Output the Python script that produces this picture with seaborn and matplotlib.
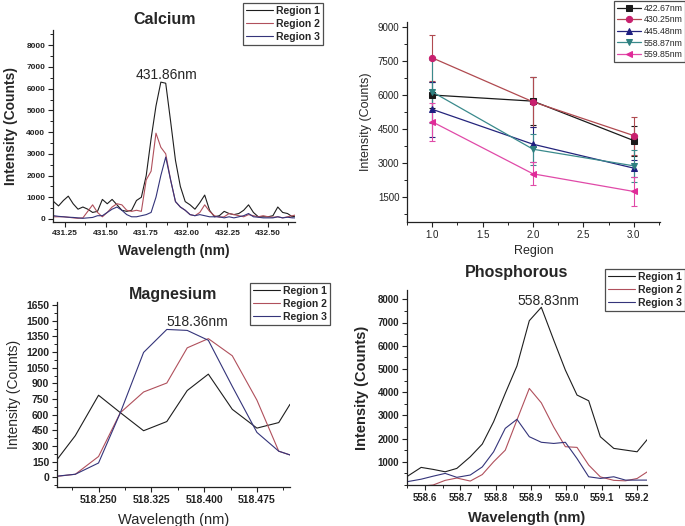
import numpy as np
import pandas as pd
import seaborn as sns
import matplotlib.pyplot as plt
from matplotlib.ticker import AutoMinorLocator, FormatStrFormatter, MultipleLocator

# Calcium spectra
ca_wl = [431.18, 431.21, 431.24, 431.27, 431.30, 431.33, 431.36, 431.39, 431.42, 431.45,
         431.48, 431.51, 431.54, 431.57, 431.60, 431.63, 431.66, 431.69, 431.72, 431.75,
         431.78, 431.81, 431.84, 431.87, 431.90, 431.93, 431.96, 431.99, 432.02, 432.05,
         432.08, 432.11, 432.14, 432.17, 432.20, 432.23, 432.26, 432.29, 432.32, 432.35,
         432.38, 432.41, 432.44, 432.47, 432.50, 432.53, 432.56, 432.59, 432.62, 432.65, 432.68]
ca_r1 = [800, 600, 850, 1050, 700, 450, 550, 450, 300, 350,
         900, 700, 900, 650, 400, 350, 400, 850, 1000, 2000,
         3700, 5200, 6300, 6250, 4500, 2700, 1500, 800, 650, 450,
         750, 1100, 400, 100, 150, 350, 250, 200, 250, 400,
         650, 300, 100, 100, 100, 150, 550, 300, 250, 100, 150]
ca_r2 = [100, 100, 100, 80, 50, 30, 50, 350, 650, 300,
         100, 300, 550, 700, 650, 400, 350, 400, 350, 1800,
         2200, 3950, 3300, 3000, 1800, 800, 550, 400, 200, 150,
         300, 650, 350, 150, 80, 100, 250, 200, 150, 100,
         200, 150, 100, 150, 100, 80, 100, 50, 100, 150, 200]
ca_r3 = [150, 120, 100, 80, 70, 50, 30, 50, 70, 150,
         150, 300, 450, 550, 400, 200, 100, 100, 150, 200,
         300, 1000, 2000, 2850, 1800, 800, 550, 400, 200, 150,
         200, 150, 100, 100, 100, 50, 100, 50, 100, 150,
         250, 100, 80, 50, 50, 50, 100, 50, 80, 50, 50]

# Intensity vs region
regions = [1.0, 2.0, 3.0]
lines_nm = ['422.67nm', '430.25nm', '445.48nm', '558.87nm', '559.85nm']
int_422 = [6000, 5730, 3990]
err_422 = [580, 1055, 660]
int_430 = [7640, 5700, 4210]
err_430 = [1000, 1100, 840]
int_445 = [5370, 3830, 2775]
err_445 = [1200, 765, 380]
int_558 = [6140, 3610, 2876]
err_558 = [1390, 690, 690]
int_559 = [4820, 2525, 1746]
err_559 = [830, 515, 660]

# Magnesium spectra
mg_wl = [518.191, 518.217, 518.250, 518.281, 518.314, 518.347,
         518.376, 518.406, 518.440, 518.475, 518.506, 518.522]
mg_r1 = [170, 400, 787, 620, 447, 535, 832, 989, 652, 472, 525, 700]
mg_r2 = [10, 30, 200, 620, 818, 904, 1241, 1329, 1165, 740, 251, 215]
mg_r3 = [12, 30, 138, 620, 1197, 1417, 1408, 1313, 872, 431, 251, 215]

# Phosphorous spectra
p_wl = [558.548, 558.589, 558.623, 558.657, 558.690, 558.728, 558.762, 558.794, 558.827,
        558.860, 558.895, 558.929, 558.964, 558.997, 559.030, 559.063, 559.096, 559.134,
        559.167, 559.200, 559.229]
p_r1 = [354, 758, 672, 569, 715, 1216, 1763, 2724, 3948, 5125, 7077,
        7654, 6245, 4952, 3875, 3629, 2078, 1577, 1504, 1431, 1965]
p_r2 = [-150, -50, 0, 200, 300, 170, 450, 1000, 1500, 2800, 4160,
        3540, 2500, 1650, 1620, 860, 350, 200, 180, 280, 570]
p_r3 = [138, 250, 380, 500, 330, 430, 780, 1430, 2440, 2830, 2080,
        1840, 1790, 1840, 1140, 354, 284, 354, 211, 211, 211]

region_names = ['Region 1', 'Region 2', 'Region 3']
region_colors = ['#1e1e1e', '#b0505c', '#34347a']

sns.set_style('ticks')
plt.rcParams['font.family'] = ['Liberation Sans', 'DejaVu Sans']

W, H = 685, 526
fig = plt.figure(figsize=(W / 100, H / 100), dpi=100)


def box(l, t, r, b):
    return [l / W, 1 - b / H, (r - l) / W, (b - t) / H]


def fx(x, y):
    return x / W, 1 - y / H


def spectrum(ax, wl, series, lw=0.8):
    df = pd.DataFrame({'wl': wl * len(series),
                       'counts': sum(series, []),
                       'region': sum([[n] * len(wl) for n in region_names], [])})
    sns.lineplot(data=df, x='wl', y='counts', hue='region', palette=region_colors,
                 linewidth=lw, ax=ax, legend=True, sort=False)


def style(ax, tsize, bold):
    sns.despine(ax=ax)
    for s in ['left', 'bottom']:
        ax.spines[s].set_linewidth(0.9)
        ax.spines[s].set_color('#222222')
    ax.tick_params(which='major', direction='out', length=3.5, width=0.8,
                   labelsize=tsize, pad=2, colors='#222222')
    ax.tick_params(which='minor', direction='out', length=2, width=0.7, colors='#222222')
    ax.xaxis.set_minor_locator(AutoMinorLocator(2))
    ax.yaxis.set_minor_locator(AutoMinorLocator(2))
    if bold:
        for lab in ax.get_xticklabels() + ax.get_yticklabels():
            lab.set_fontweight('bold')


def legend(ax, anchor, size, bold=True, hl=2.6, sp=0.28):
    leg = ax.legend(loc='upper left', bbox_to_anchor=fx(*anchor), bbox_transform=fig.transFigure,
                    frameon=True, fancybox=False, borderaxespad=0,
                    handlelength=hl, handletextpad=0.3, labelspacing=sp,
                    borderpad=0.3, prop={'weight': 'bold' if bold else 'normal', 'size': size})
    leg.get_frame().set_edgecolor('#222222')
    leg.get_frame().set_linewidth(0.9)
    return leg


# ---- Calcium
ax1 = fig.add_axes(box(53, 30, 295, 222))
spectrum(ax1, ca_wl, [ca_r1, ca_r2, ca_r3])
ax1.set_xlim(431.176, 432.666)
ax1.set_ylim(-140, 8700)
ax1.xaxis.set_major_locator(MultipleLocator(0.25))
ax1.xaxis.set_major_formatter(FormatStrFormatter('%.2f'))
ax1.yaxis.set_major_locator(MultipleLocator(1000))
style(ax1, 6, True)
ax1.set_xlabel('Wavelength (nm)', fontsize=10, fontweight='bold', labelpad=5)
ax1.set_ylabel('Intensity (Counts)', fontsize=10, fontweight='bold', labelpad=6)
ax1.text(431.875, 6650, '431.86nm', ha='center', va='center', fontsize=10)
fig.text(*fx(165, 20), 'Calcium', ha='center', va='center', fontsize=11.5, fontweight='bold')
legend(ax1, (243, 3), 7.5)

# ---- Intensity by region
ax2 = fig.add_axes(box(407, 22, 660, 222))
series2 = [(int_422, err_422, '#1a1a1a', '#1a1a1a', 's'),
           (int_430, err_430, '#b04a50', '#c8206e', 'o'),
           (int_445, err_445, '#24247c', '#1e1e80', '^'),
           (int_558, err_558, '#3a8a8c', '#2f8080', 'v'),
           (int_559, err_559, '#e04aa8', '#e02a98', '<')]
for name, (vals, errs, lc, mc, mk) in zip(lines_nm, series2):
    ax2.errorbar(regions, vals, yerr=errs, fmt='none', ecolor=lc, elinewidth=0.8,
                 capsize=2, capthick=0.8, zorder=2)
    sns.lineplot(x=regions, y=vals, ax=ax2, color=lc, marker=mk, markersize=4.5,
                 markerfacecolor=mc, markeredgecolor=mc, linewidth=0.9, label=name, zorder=3)
ax2.set_xlim(0.75, 3.26)
ax2.set_ylim(400, 9220)
ax2.xaxis.set_major_locator(MultipleLocator(0.5))
ax2.xaxis.set_major_formatter(FormatStrFormatter('%.1f'))
ax2.yaxis.set_major_locator(MultipleLocator(1500))
style(ax2, 7, False)
ax2.set_xlabel('Region', fontsize=9, labelpad=4)
ax2.set_ylabel('Intensity (Counts)', fontsize=9, labelpad=4)
legend(ax2, (614, 1), 6.3, bold=False, hl=2.8, sp=0.3)

# ---- Magnesium
ax3 = fig.add_axes(box(57, 302, 290, 487))
spectrum(ax3, mg_wl, [mg_r1, mg_r2, mg_r3])
ax3.set_xlim(518.191, 518.522)
ax3.set_ylim(-92, 1680)
ax3.xaxis.set_major_formatter(FormatStrFormatter('%.3f'))
ax3.yaxis.set_major_locator(MultipleLocator(150))
ax3.set_xticks([518.250, 518.325, 518.400, 518.475])
style(ax3, 7.5, True)
ax3.set_xlabel('Wavelength (nm)', fontsize=10.5, labelpad=6)
ax3.set_ylabel('Intensity (Counts)', fontsize=10, labelpad=4)
ax3.text(518.391, 1487, '518.36nm', ha='center', va='center', fontsize=10)
fig.text(*fx(173, 295), 'Magnesium', ha='center', va='center', fontsize=11.5, fontweight='bold')
legend(ax3, (250, 283), 7.5)

# ---- Phosphorous
ax4 = fig.add_axes(box(407, 290, 647, 485))
spectrum(ax4, p_wl, [p_r1, p_r2, p_r3])
ax4.set_xlim(558.549, 559.228)
ax4.set_ylim(0, 8400)
ax4.xaxis.set_major_locator(MultipleLocator(0.1))
ax4.xaxis.set_major_formatter(FormatStrFormatter('%.1f'))
ax4.set_yticks([1000, 2000, 3000, 4000, 5000, 6000, 7000, 8000])
style(ax4, 7, True)
ax4.set_xlabel('Wavelength (nm)', fontsize=10.5, fontweight='bold', labelpad=6)
ax4.set_ylabel('Intensity (Counts)', fontsize=10.5, fontweight='bold', labelpad=6)
ax4.text(558.949, 7927, '558.83nm', ha='center', va='center', fontsize=10)
fig.text(*fx(517, 272), 'Phosphorous', ha='center', va='center', fontsize=11.5, fontweight='bold')
legend(ax4, (605, 269), 7.5)

fig.savefig('out.png', dpi=100, facecolor='white')
